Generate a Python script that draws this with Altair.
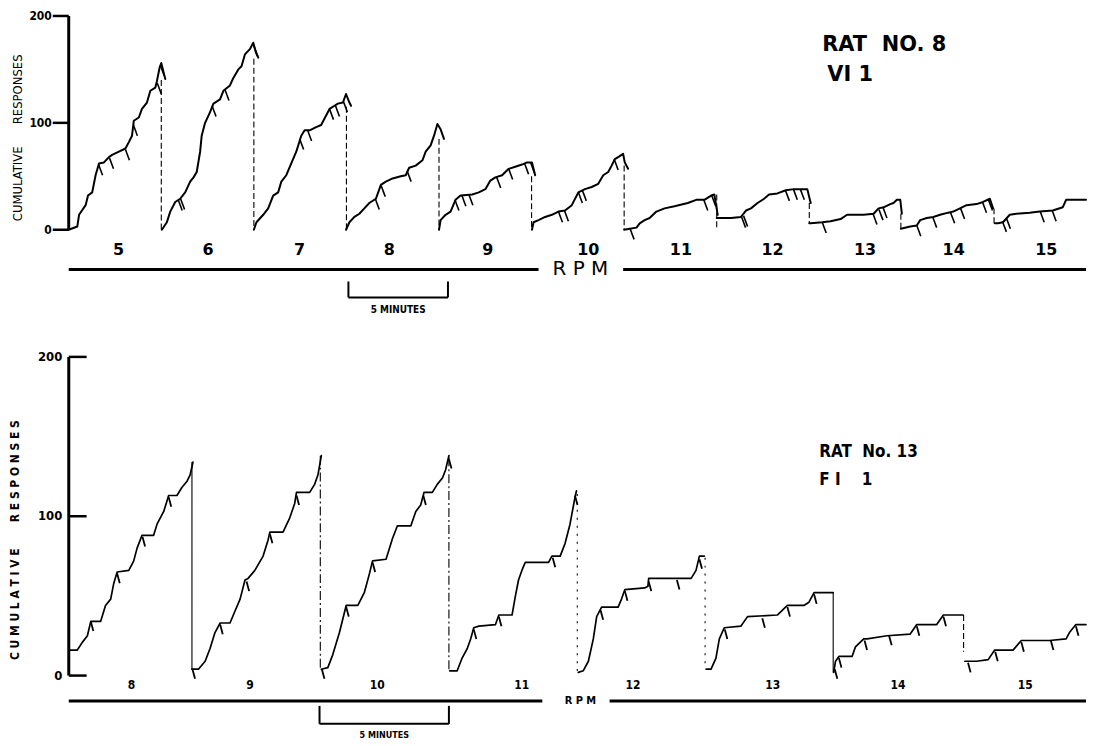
import altair as alt
import pandas as pd

# ---------------- TOP RECORD : RAT NO. 8, VI 1 (time in minutes, cumulative responses) -------------
TOP_TIME = {
    5: [0.0, 0.43, 0.52, 0.85, 0.97, 1.18, 1.35, 1.52, 1.77, 2.02, 2.18, 2.52, 2.85, 3.02, 3.18, 3.27, 3.52, 3.68, 3.93, 4.10, 4.35, 4.43, 4.57, 4.65, 4.77, 4.85],
    6: [4.68, 4.93, 5.10, 5.35, 5.60, 5.85, 6.10, 6.27, 6.43, 6.60, 6.68, 6.85, 7.10, 7.27, 7.60, 7.77, 8.10, 8.27, 8.52, 8.68, 8.85, 9.10, 9.27, 9.40, 9.52],
    7: [9.30, 9.43, 9.77, 10.02, 10.27, 10.52, 10.68, 10.93, 11.27, 11.43, 11.68, 11.85, 12.10, 12.43, 12.68, 12.85, 13.10, 13.35, 13.52, 13.77, 13.93, 14.10, 14.18],
    8: [13.93, 14.10, 14.35, 14.60, 14.85, 15.10, 15.43, 15.68, 15.93, 16.27, 16.68, 16.93, 17.10, 17.43, 17.77, 17.93, 18.18, 18.35, 18.52, 18.68, 18.85],
    9: [18.60, 18.68, 18.93, 19.18, 19.43, 19.68, 20.27, 20.60, 20.93, 21.18, 21.43, 21.77, 22.10, 22.43, 22.77, 23.02, 23.27, 23.43],
    10: [23.27, 23.35, 23.60, 23.93, 24.27, 24.60, 24.93, 25.27, 25.60, 25.93, 26.27, 26.60, 26.85, 27.10, 27.27, 27.43, 27.60, 27.85, 27.93, 28.10],
    11: [27.90, 28.18, 28.52, 28.68, 28.93, 29.18, 29.52, 29.93, 30.43, 31.10, 31.52, 31.93, 32.27, 32.43, 32.60],
    12: [32.55, 32.93, 33.27, 33.77, 34.02, 34.27, 34.60, 34.93, 35.18, 35.60, 36.02, 36.43, 37.10, 37.27],
    13: [37.20, 37.27, 37.85, 38.27, 38.77, 39.10, 39.93, 40.43, 40.68, 40.93, 41.27, 41.43, 41.60, 41.77, 41.85],
    14: [41.80, 42.27, 42.60, 42.77, 43.10, 43.43, 43.77, 44.18, 44.43, 44.77, 45.10, 45.60, 45.93, 46.27, 46.43],
    15: [46.52, 46.68, 46.93, 47.27, 47.60, 48.27, 48.77, 49.43, 49.93, 50.10, 50.43, 51.10],
}
TOP_RESP = {
    5: [0, 3, 14, 23, 32, 35, 51, 62, 63, 68, 70, 73, 76, 82, 88, 102, 105, 113, 119, 130, 133, 139, 152, 156, 147, 141],
    6: [0, 7, 17, 26, 29, 35, 45, 49, 54, 73, 88, 100, 110, 118, 122, 130, 135, 142, 150, 153, 164, 169, 175, 166, 161],
    7: [0, 7, 14, 20, 32, 35, 45, 51, 66, 73, 88, 93, 93, 96, 98, 104, 113, 116, 118, 119, 127, 119, 116],
    8: [0, 7, 12, 15, 20, 25, 29, 42, 45, 48, 50, 51, 58, 60, 65, 73, 79, 88, 99, 94, 85],
    9: [0, 9, 14, 17, 28, 32, 33, 35, 38, 46, 49, 51, 57, 59, 61, 63, 63, 51],
    10: [0, 7, 9, 12, 14, 17, 18, 23, 35, 38, 40, 43, 51, 54, 60, 66, 68, 71, 63, 57],
    11: [0, 1, 2, 6, 9, 11, 17, 20, 22, 25, 28, 28, 32, 33, 14],
    12: [11, 11, 11, 12, 18, 20, 25, 29, 33, 34, 37, 38, 38, 25],
    13: [6, 6, 7, 8, 10, 14, 14, 15, 20, 21, 24, 25, 28, 28, 15],
    14: [1, 3, 4, 9, 11, 12, 14, 16, 17, 20, 23, 24, 26, 29, 20],
    15: [6, 6, 7, 14, 15, 16, 17, 18, 21, 28, 28, 28],
}
TOP_RESET_T = [4.65, 9.30, 13.95, 18.60, 23.25, 27.90, 32.55, 37.20, 41.80, 46.48]
TOP_RESET_FROM = [140, 160, 115, 85, 50, 60, 33, 25, 15, 20]
TOP_RESET_TO = [0, 0, 0, 0, 0, 0, 0, 6, 1, 6]
TOP_PIP_T = [1.50, 2.05, 2.85, 3.25, 4.45, 4.60, 5.50, 5.62, 7.20, 7.85, 9.30, 11.60, 12.00, 13.10, 13.40, 13.80,
             15.40, 15.70, 17.00, 19.40, 19.75, 20.10, 21.50, 22.10, 22.90, 23.20, 24.60, 24.90, 25.60, 25.80, 27.40, 28.20,
             31.90, 32.30, 33.80, 33.90, 36.00, 36.40, 36.75, 37.85, 40.40, 40.70, 40.90, 42.60, 43.40, 44.30, 44.80,
             45.90, 46.20, 46.90, 47.10, 48.80, 49.40]
TOP_PIP_R = [61, 67, 75, 98, 137, 154, 28, 29, 116, 131, 172, 85, 93, 113, 116, 120,
             29, 41, 55, 28, 32, 33, 49, 57, 62, 63, 17, 18, 35, 37, 66, 1,
             28, 32, 12, 13, 37, 38, 38, 7, 15, 19, 21, 4, 12, 16, 20,
             26, 28, 8, 11, 17, 18]
TOP_LABEL_T = [2.5, 7.0, 11.6, 16.1, 21.05, 26.1, 30.75, 35.35, 40.0, 44.45, 49.1]
TOP_LABELS = ["5", "6", "7", "8", "9", "10", "11", "12", "13", "14", "15"]

# ---------------- BOTTOM RECORD : RAT No. 13, FI 1 -------------
BOT_TIME = {
    8: [0.00, 0.33, 0.53, 0.72, 0.85, 1.23, 1.42, 1.62, 1.74, 1.87, 2.32, 2.51, 2.64, 2.83, 3.28, 3.41, 3.67, 3.86, 4.18, 4.37, 4.57, 4.69, 4.80],
    9: [4.76, 5.01, 5.27, 5.46, 5.65, 5.85, 6.23, 6.36, 6.62, 6.81, 6.93, 7.19, 7.51, 7.70, 7.77, 8.28, 8.54, 8.73, 8.80, 9.31, 9.50, 9.63, 9.76],
    10: [9.76, 10.01, 10.20, 10.46, 10.72, 11.17, 11.42, 11.62, 11.74, 12.26, 12.51, 12.70, 13.22, 13.41, 13.60, 13.73, 14.05, 14.24, 14.44, 14.56, 14.69],
    11: [14.72, 15.01, 15.20, 15.40, 15.53, 15.65, 15.85, 16.49, 16.62, 17.13, 17.26, 17.38, 17.51, 17.64, 18.15, 18.54, 18.67, 18.99, 19.18, 19.37, 19.54, 19.62],
    12: [19.69, 19.88, 20.08, 20.27, 20.40, 20.59, 21.23, 21.36, 21.49, 22.26, 22.38, 22.41, 24.05, 24.24, 24.37, 24.56],
    13: [24.63, 24.82, 25.01, 25.14, 25.33, 25.97, 26.23, 27.38, 27.77, 28.41, 28.60, 28.80, 29.54],
    14: [29.56, 29.63, 29.76, 30.27, 30.40, 30.72, 30.85, 31.62, 32.51, 32.77, 33.54, 33.80, 34.56],
    15: [34.63, 35.08, 35.53, 35.78, 36.49, 36.81, 37.90, 38.54, 38.67, 38.92, 39.31],
}
BOT_RESP = {
    8: [16, 16, 21, 25, 34, 34, 44, 48, 58, 65, 66, 72, 80, 88, 88, 95, 103, 113, 113, 118, 122, 126, 134],
    9: [4, 4, 9, 17, 27, 33, 33, 38, 48, 60, 61, 66, 75, 85, 90, 90, 99, 108, 115, 115, 120, 126, 138],
    10: [4, 5, 13, 27, 44, 44, 52, 64, 72, 73, 86, 94, 94, 103, 107, 115, 115, 120, 124, 129, 138],
    11: [3, 3, 11, 17, 23, 30, 31, 32, 38, 38, 50, 60, 66, 71, 71, 71, 75, 75, 83, 95, 110, 116],
    12: [2, 3, 9, 23, 37, 43, 43, 48, 54, 55, 56, 61, 61, 66, 75, 75],
    13: [4, 4, 11, 23, 30, 31, 37, 38, 44, 44, 46, 52, 52],
    14: [2, 9, 12, 12, 18, 23, 23, 25, 26, 32, 32, 38, 38],
    15: [9, 9, 10, 16, 16, 22, 22, 23, 27, 32, 32],
}
BOT_RESET_T = [4.76, 9.72, 14.69, 19.65, 24.59, 29.54, 34.58]
BOT_RESET_FROM = [134, 138, 137, 114, 74, 52, 38]
BOT_RESET_TO = [4, 4, 3, 2, 4, 2, 15]
BOT_RESET_STYLE = ["solid", "dashdot", "dashdot", "dot", "dot", "solid", "dash"]
BOT_PIP_T = [0.85, 1.87, 2.85, 3.86, 4.78, 5.85, 6.87, 7.77, 8.80, 9.78, 10.72, 11.74, 13.70, 14.69,
             15.65, 16.62, 18.70, 19.56, 20.55, 21.49, 22.41, 23.50, 24.37, 25.35, 26.80, 27.77, 28.80,
             29.60, 29.76, 30.75, 31.70, 32.77, 33.80, 34.75, 35.80, 36.81, 37.95, 38.92]
BOT_PIP_R = [34, 64, 87, 112, 4, 32, 59, 89, 113, 4, 43, 71, 113, 136,
             29, 37, 74, 113, 41, 53, 59, 60, 73, 29, 36, 43, 51,
             4, 11, 22, 25, 31, 37, 8, 15, 21, 22, 31]
BOT_LABEL_T = [2.42, 7.0, 11.92, 17.5, 21.8, 27.2, 32.04, 36.96]
BOT_LABELS = ["8", "9", "10", "11", "12", "13", "14", "15"]

AXIS_TICKS = [0, 100, 200]
BRACKET_MINUTES = 5
NB = "\u00a0"
COND = "DejaVu Sans Condensed"


def curves_df(times, resps):
    rows = []
    for s in times:
        for i, (t, r) in enumerate(zip(times[s], resps[s])):
            rows.append({"seg": str(s), "i": i, "t": t, "r": r})
    return pd.DataFrame(rows)


def panel(cfg):
    xs = alt.Scale(domain=cfg["xdom"], nice=False, zero=False)
    ys = alt.Scale(domain=cfg["ydom"], nice=False, zero=False)

    def X(f):
        return alt.X(f, type="quantitative", scale=xs, axis=None)

    def Y(f):
        return alt.Y(f, type="quantitative", scale=ys, axis=None)

    layers = []
    cdf = curves_df(cfg["times"], cfg["resps"])
    layers.append(
        alt.Chart(cdf).mark_line(color="black", strokeWidth=cfg["lw"], strokeJoin="round", strokeCap="round")
        .encode(x=X("t"), y=Y("r"), detail="seg:N", order="i:Q")
    )
    rdf = pd.DataFrame({"t": cfg["reset_t"], "a": cfg["reset_from"], "b": cfg["reset_to"], "style": cfg["reset_style"]})
    layers.append(
        alt.Chart(rdf).mark_rule(color="black", strokeWidth=1.1)
        .encode(x=X("t"), y=Y("a"), y2="b",
                strokeDash=alt.StrokeDash("style:N", legend=None,
                                          scale=alt.Scale(domain=["solid", "dashdot", "dot", "dash"],
                                                          range=[[1, 0], [9, 3, 2, 3], [2, 6], [6, 3]])))
    )
    pdf = pd.DataFrame({"t": cfg["pip_t"], "r": cfg["pip_r"]})
    pdf["t2"] = pdf["t"] + cfg["pip_dt"]
    pdf["r2"] = pdf["r"] + cfg["pip_dr"]
    layers.append(
        alt.Chart(pdf).mark_rule(color="black", strokeWidth=cfg["pip_w"])
        .encode(x=X("t"), x2="t2", y=Y("r"), y2="r2")
    )
    adf = pd.DataFrame({"t": [0], "a": [0], "b": [200]})
    layers.append(
        alt.Chart(adf).mark_rule(color="black", strokeWidth=3).encode(x=X("t"), y=Y("a"), y2="b")
    )
    tdf = pd.DataFrame({"v": AXIS_TICKS, "t0": 0.0, "t1": cfg["tick_len"], "lab": [str(v) for v in AXIS_TICKS],
                        "tl": cfg["ticklab_t"]})
    layers.append(
        alt.Chart(tdf).mark_rule(color="black", strokeWidth=2.5).encode(x=X("t0"), x2="t1", y=Y("v"))
    )
    layers.append(
        alt.Chart(tdf).mark_text(align="right", baseline="middle", font=COND, fontWeight="bold",
                                 fontSize=cfg["tick_fs"], color="black")
        .encode(x=X("tl"), y=Y("v"), text="lab:N")
    )
    ydf = pd.DataFrame({"t": [cfg["ytitle_t"]], "r": [cfg["ytitle_r"]], "lab": [cfg["ytitle"]]})
    layers.append(
        alt.Chart(ydf).mark_text(angle=270, align="center", baseline="middle", font=COND,
                                 fontWeight=cfg["ytitle_weight"], fontSize=cfg["ytitle_fs"], color="black")
        .encode(x=X("t"), y=Y("r"), text="lab:N")
    )
    ldf = pd.DataFrame({"t": cfg["label_t"], "lab": cfg["labels"]})
    ldf["r"] = cfg["label_r"]
    layers.append(
        alt.Chart(ldf).mark_text(align="center", baseline="middle", font=cfg["label_font"], fontWeight="bold",
                                 fontSize=cfg["label_fs"], color="black")
        .encode(x=X("t"), y=Y("r"), text="lab:N")
    )
    rpm = cfg["rpm"]
    rldf = pd.DataFrame({"a": [rpm[0], rpm[3]], "b": [rpm[1], rpm[4]], "r": [rpm[5], rpm[5]]})
    layers.append(
        alt.Chart(rldf).mark_rule(color="black", strokeWidth=3).encode(x=X("a"), x2="b", y=Y("r"))
    )
    rtdf = pd.DataFrame({"t": [rpm[2]], "r": [rpm[5]], "lab": [cfg["rpm_text"]]})
    layers.append(
        alt.Chart(rtdf).mark_text(align="center", baseline="middle", font=cfg["rpm_font"],
                                  fontWeight=cfg["rpm_weight"], fontSize=cfg["rpm_fs"], color="black")
        .encode(x=X("t"), y=Y("r"), text="lab:N")
    )
    b0 = cfg["bracket_t"]
    b1 = b0 + BRACKET_MINUTES
    btop, bbot = cfg["bracket_r"]
    bv = pd.DataFrame({"t": [b0, b1], "a": [btop, btop], "b": [bbot, bbot]})
    layers.append(alt.Chart(bv).mark_rule(color="black", strokeWidth=2).encode(x=X("t"), y=Y("a"), y2="b"))
    bh = pd.DataFrame({"a": [b0], "b": [b1], "r": [bbot]})
    layers.append(alt.Chart(bh).mark_rule(color="black", strokeWidth=2).encode(x=X("a"), x2="b", y=Y("r")))
    btx = pd.DataFrame({"t": [(b0 + b1) / 2], "r": [cfg["bracket_text_r"]], "lab": ["5" + NB + "MINUTES"]})
    layers.append(
        alt.Chart(btx).mark_text(align="center", baseline="middle", font=COND, fontWeight="bold",
                                 fontSize=cfg["bracket_fs"], color="black")
        .encode(x=X("t"), y=Y("r"), text="lab:N")
    )
    ttl = pd.DataFrame({"t": cfg["title_t"], "r": cfg["title_r"], "lab": cfg["title"]})
    layers.append(
        alt.Chart(ttl).mark_text(align="left", baseline="middle", font=cfg["title_font"], fontWeight="bold",
                                 fontSize=cfg["title_fs"], color="black")
        .encode(x=X("t"), y=Y("r"), text="lab:N")
    )
    return alt.layer(*layers).properties(width=cfg["w"], height=cfg["h"])


top_cfg = dict(
    xdom=[-3.0, 51.1], ydom=[-80, 204], w=1082, h=305,
    times=TOP_TIME, resps=TOP_RESP, lw=2.0,
    reset_t=TOP_RESET_T, reset_from=TOP_RESET_FROM, reset_to=TOP_RESET_TO, reset_style=["dash"] * len(TOP_RESET_T),
    pip_t=TOP_PIP_T, pip_r=TOP_PIP_R, pip_dt=0.2, pip_dr=-10, pip_w=1.6,
    tick_len=-0.8, ticklab_t=-0.85, tick_fs=12,
    ytitle="CUMULATIVE" + NB * 6 + "RESPONSES", ytitle_t=-2.55, ytitle_r=86,
    ytitle_weight="normal", ytitle_fs=13,
    label_t=TOP_LABEL_T, labels=TOP_LABELS, label_r=-18.6, label_font="DejaVu Sans", label_fs=16,
    rpm=[0.0, 23.6, 25.7, 27.85, 51.1, -37.2], rpm_text="R" + NB + "P" + NB + "M", rpm_font="DejaVu Sans",
    rpm_weight="normal", rpm_fs=20,
    bracket_t=14.05, bracket_r=(-48.4, -63.3), bracket_text_r=-75.5, bracket_fs=10,
    title=["RAT" + NB + NB + "NO." + NB + "8", "VI" + NB + "1"], title_t=[37.85, 38.1], title_r=[173, 145],
    title_font="DejaVu Sans", title_fs=21,
)

bot_cfg = dict(
    xdom=[-2.31, 39.31], ydom=[-40, 213], w=1082, h=405,
    times=BOT_TIME, resps=BOT_RESP, lw=1.7,
    reset_t=BOT_RESET_T, reset_from=BOT_RESET_FROM, reset_to=BOT_RESET_TO, reset_style=BOT_RESET_STYLE,
    pip_t=BOT_PIP_T, pip_r=BOT_PIP_R, pip_dt=0.1, pip_dr=-6, pip_w=1.8,
    tick_len=0.69, ticklab_t=-0.25, tick_fs=13,
    ytitle=NB.join("CUMULATIVE") + NB * 7 + NB.join("RESPONSES"), ytitle_t=-2.08, ytitle_r=85,
    ytitle_weight="bold", ytitle_fs=12,
    label_t=BOT_LABEL_T, labels=BOT_LABELS, label_r=-6.2, label_font=COND, label_fs=12,
    rpm=[0.0, 18.3, 19.77, 20.9, 39.31, -16], rpm_text="R" + NB + "P" + NB + "M", rpm_font=COND, rpm_weight="bold",
    rpm_fs=11,
    bracket_t=9.69, bracket_r=(-19, -30.3), bracket_text_r=-37, bracket_fs=9,
    title=["RAT" + NB + NB + "No." + NB + "13", "F" + NB + "I" + NB * 4 + "1"], title_t=[29.0, 29.0],
    title_r=[140.6, 123], title_font=COND, title_fs=17,
)

chart = alt.vconcat(panel(top_cfg), panel(bot_cfg), spacing=20).configure_view(stroke=None).properties(
    padding={"left": 0, "top": 0, "right": 0, "bottom": 0}, background="white"
)

chart.save("out.html", embed_options={"renderer": "svg", "actions": False})
